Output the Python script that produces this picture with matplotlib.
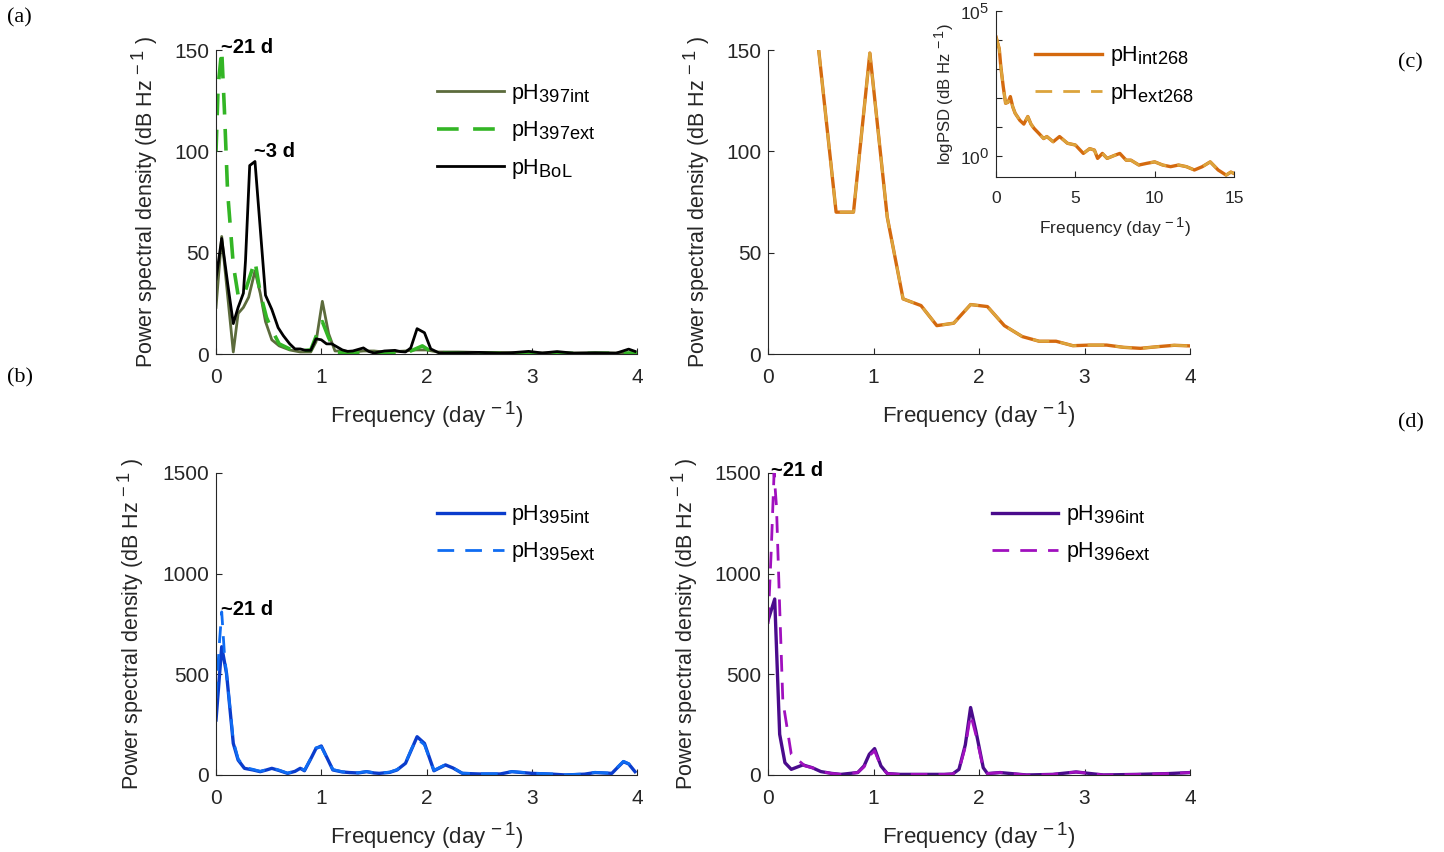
import numpy as np
import matplotlib
matplotlib.use("Agg")
import matplotlib.pyplot as plt
import matplotlib._mathtext as mathtext_impl

plt.rcParams["font.family"] = ["Liberation Sans", "DejaVu Sans"]
plt.rcParams["mathtext.fontset"] = "custom"
plt.rcParams["mathtext.rm"] = "Liberation Sans"
plt.rcParams["mathtext.it"] = "Liberation Sans"
# MATLAB tex subscripts are nearly full size
mathtext_impl.SHRINK_FACTOR = 0.85

# ---- data ----
# (a) pH397 internal / external and BoL
f_397int = [0, 0.054, 0.164, 0.21, 0.26, 0.31, 0.37, 0.42, 0.47, 0.53, 0.6, 0.7, 0.8, 0.9, 0.95,
            1.01, 1.07, 1.13, 1.2, 1.3, 1.4, 1.5, 1.6, 1.7, 1.8, 1.9, 2.0, 2.1, 2.3, 2.5, 2.7,
            2.9, 3.1, 3.3, 3.5, 3.7, 3.9, 4.0]
psd_397int = [23, 58, 1, 20, 23, 28, 41, 30, 16, 7, 4, 2, 1, 1, 6,
              26, 10, 1.5, 1.5, 1, 1.5, 1.5, 1, 1.2, 1.5, 2, 2, 1, 1, 0.8,
              0.8, 0.5, 0.5, 0.5, 0.5, 0.5, 0.5, 0.5]
f_397ext = [0, 0.02, 0.054, 0.08, 0.11, 0.164, 0.21, 0.26, 0.32, 0.37, 0.42, 0.48, 0.53, 0.6,
            0.7, 0.8, 0.9, 0.96, 1.01, 1.07, 1.14, 1.3, 1.5, 1.7, 1.85, 1.96, 2.05, 2.2, 2.5,
            3.0, 3.5, 4.0]
psd_397ext = [100, 132, 150, 120, 80, 44, 29, 28, 38, 46, 30, 18, 12, 5,
              2.5, 1.6, 2, 10, 16, 8, 0.8, 0.5, 0.5, 0.5, 1.5, 4, 1, 0.5, 0.3,
              0.3, 0.3, 0.5]
f_bol = [0, 0.054, 0.11, 0.164, 0.21, 0.26, 0.28, 0.32, 0.37, 0.42, 0.47, 0.53, 0.59, 0.64,
         0.7, 0.75, 0.8, 0.85, 0.9, 0.95, 1.0, 1.05, 1.1, 1.15, 1.2, 1.25, 1.3, 1.4, 1.45,
         1.5, 1.6, 1.7, 1.75, 1.8, 1.85, 1.91, 1.98, 2.04, 2.12, 2.3, 2.5, 2.7, 2.8, 2.97,
         3.1, 3.24, 3.4, 3.6, 3.8, 3.92, 3.98]
psd_bol = [37, 57, 35, 15, 23, 30, 46, 93, 95, 62, 29, 22, 13, 9,
           5, 2.5, 2.5, 1.8, 1.8, 7.5, 7, 5, 5, 3.5, 2, 1.3, 1.5, 3, 1.3,
           0.5, 1.5, 1.8, 1.2, 1, 3, 12.5, 10.5, 2.5, 0.5, 0.6, 0.8, 0.4, 0.6, 1.3,
           0.5, 1.2, 0.4, 0.6, 0.4, 2.4, 1.3]

# (c) pH268 internal / external
f_268 = [0.48, 0.645, 0.81, 0.965, 1.13, 1.28, 1.45, 1.6, 1.76, 1.92, 2.08, 2.24, 2.41,
         2.57, 2.73, 2.89, 3.05, 3.21, 3.37, 3.53, 3.69, 3.85, 4.0]
psd_268int = [150, 70, 70, 148.5, 67.5, 27.2, 23.9, 14, 15.2, 24.4, 23.4, 14, 8.6,
              6.3, 6.3, 4.1, 4.4, 4.4, 3.3, 2.8, 3.6, 4.3, 4]
psd_268ext = [150, 70, 70, 148.5, 67.5, 27.2, 23.9, 14, 15.2, 24.4, 23.4, 14, 8.6,
              6.3, 6.3, 4.1, 4.4, 4.4, 3.3, 2.8, 3.6, 4.3, 4]
# (c) inset, log scale
f_inset = [0, 0.2, 0.3, 0.45, 0.6, 0.75, 0.9, 1.05, 1.2, 1.5, 1.75, 2.0, 2.2, 2.4, 2.7, 3.0,
           3.2, 3.6, 4.0, 4.5, 5.0, 5.5, 5.9, 6.2, 6.4, 6.7, 7.0, 7.5, 7.8, 8.2, 8.5, 9.0,
           9.5, 10.0, 10.5, 11.0, 11.5, 12.0, 12.5, 13.0, 13.5, 14.0, 14.5, 14.8, 15.0]
logpsd_inset = [12600, 5000, 1200, 250, 66, 71, 112, 50, 30, 17, 12.6, 23, 12.6, 8.9, 6, 4,
                4.7, 3.1, 4.7, 2.75, 2.4, 1.23, 1.8, 1.6, 0.83, 1.23, 0.83, 1.07, 1.23, 0.72,
                0.72, 0.49, 0.56, 0.63, 0.49, 0.43, 0.49, 0.43, 0.33, 0.43, 0.63, 0.33, 0.22,
                0.28, 0.25]

# (b) pH395 internal / external
f_395int = [0, 0.054, 0.1, 0.164, 0.21, 0.27, 0.35, 0.42, 0.48, 0.53, 0.6, 0.68, 0.75, 0.8,
            0.84, 0.9, 0.95, 1.0, 1.05, 1.11, 1.2, 1.27, 1.35, 1.43, 1.5, 1.55, 1.65, 1.72,
            1.8, 1.86, 1.91, 1.98, 2.07, 2.18, 2.25, 2.34, 2.5, 2.7, 2.81, 3.0, 3.2, 3.32,
            3.5, 3.6, 3.76, 3.82, 3.87, 3.92, 3.98]
psd_395int = [273, 637, 504, 157, 74, 33, 25, 16.5, 25, 33, 22, 8, 18, 33,
              21, 80, 132, 144, 90, 25, 15, 12, 10, 16.5, 10, 8, 13, 25,
              58, 130, 190, 157, 21, 50, 35, 8, 5, 5, 16.5, 8, 4, 0,
              4, 12, 8, 40, 66, 55, 16.5]
f_395ext = [0, 0.03, 0.054, 0.08, 0.12, 0.164, 0.21, 0.27, 0.35, 0.42, 0.48, 0.53, 0.6, 0.68,
            0.75, 0.8, 0.84, 0.9, 0.95, 1.0, 1.05, 1.11, 1.2, 1.27, 1.35, 1.43, 1.5, 1.55,
            1.65, 1.72, 1.8, 1.86, 1.91, 1.98, 2.07, 2.18, 2.25, 2.34, 2.5, 2.7, 2.81, 3.0,
            3.2, 3.32, 3.5, 3.6, 3.76, 3.82, 3.87, 3.92, 3.98]
psd_395ext = [380, 640, 810, 600, 400, 170, 80, 38, 28, 18, 27, 35, 24, 9,
              20, 35, 23, 82, 135, 140, 88, 27, 16, 13, 11, 17, 11, 9,
              14, 27, 60, 133, 180, 150, 23, 52, 36, 9, 6, 6, 17, 9,
              5, 1, 5, 13, 9, 42, 68, 56, 18]

# (d) pH396 internal / external
f_396int = [0, 0.063, 0.11, 0.16, 0.22, 0.33, 0.42, 0.5, 0.6, 0.69, 0.78, 0.85, 0.91, 0.96,
            1.01, 1.07, 1.13, 1.25, 1.45, 1.6, 1.67, 1.75, 1.81, 1.87, 1.92, 1.97, 2.04,
            2.08, 2.2, 2.45, 2.7, 2.92, 3.18, 3.5, 3.8, 4.0]
psd_396int = [767, 874, 202, 61, 28, 50, 36, 17, 8, 3, 8, 12, 45, 103,
              131, 45, 7, 3, 3, 3, 3, 5, 28, 150, 335, 219, 36,
              7, 12, 0, 3, 15, 0, 3, 7, 12]
f_396ext = [0, 0.03, 0.057, 0.08, 0.11, 0.14, 0.22, 0.35, 0.42, 0.5, 0.6, 0.69, 0.78, 0.85,
            0.91, 0.96, 1.01, 1.07, 1.13, 1.25, 1.45, 1.6, 1.67, 1.75, 1.81, 1.87, 1.92,
            1.97, 2.04, 2.08, 2.2, 2.45, 2.7, 2.92, 3.18, 3.5, 3.8, 4.0]
psd_396ext = [750, 1115, 1500, 1330, 833, 368, 103, 45, 36, 17, 8, 3, 8, 12,
              40, 95, 120, 42, 7, 3, 3, 3, 3, 5, 25, 140, 300, 200,
              33, 7, 12, 0, 3, 15, 0, 3, 7, 12]

AX_COL = "#262626"
LW = 2.0
DASH = (6, 4)


def style(ax, lsize=15):
    for s in ["top", "right"]:
        ax.spines[s].set_visible(False)
    for s in ["left", "bottom"]:
        ax.spines[s].set_color(AX_COL)
        ax.spines[s].set_linewidth(0.8)
    ax.tick_params(direction="in", colors=AX_COL, labelsize=lsize, length=4, width=0.8)
    ax.tick_params(axis="x", pad=10)
    ax.tick_params(axis="y", pad=5)


def main_axes(ax, ymax, yticks):
    style(ax)
    ax.set_xlim(0, 4)
    ax.set_ylim(0, ymax)
    ax.set_xticks([0, 1, 2, 3, 4])
    ax.set_yticks(yticks)
    ax.set_xlabel("Frequency (day$^{\\,-1}$)", fontsize=16, color=AX_COL)
    ax.set_ylabel("Power spectral density (dB Hz$^{\\,-1}$ )", fontsize=15.5, color=AX_COL)


def lbl(s):
    return "pH$_{\\mathregular{" + s + "}}$"


fig = plt.figure(figsize=(14.44, 8.52), dpi=100)
ax_a = fig.add_axes([0.1496, 0.5845, 0.2916, 0.3568])
ax_c = fig.add_axes([0.5319, 0.5845, 0.2922, 0.3568])
ax_b = fig.add_axes([0.1496, 0.0904, 0.2916, 0.3545])
ax_d = fig.add_axes([0.5319, 0.0904, 0.2922, 0.3545])
ax_in = fig.add_axes([0.6898, 0.7923, 0.1648, 0.1948])

leg_kw = dict(frameon=False, fontsize=15.5, handlelength=3.1, handletextpad=0.35,
              labelspacing=0.62, borderpad=0, borderaxespad=0, loc="upper left")

# 1. panel (a)
ax_a.plot(f_397int, psd_397int, color="#5c6b3c", lw=LW, label=lbl("397int"))
ax_a.plot(f_397ext, psd_397ext, color="#33b525", lw=LW + 0.6, dashes=DASH, label=lbl("397ext"))
ax_a.plot(f_bol, psd_bol, color="black", lw=LW, label=lbl("BoL"))
main_axes(ax_a, 150, [0, 50, 100, 150])
ax_a.text(0.05, 151, "~21 d", fontsize=14.5, fontweight="bold", va="center", ha="left")
ax_a.text(0.36, 100, "~3 d", fontsize=14.5, fontweight="bold", va="center", ha="left")
ax_a.legend(bbox_to_anchor=(0.525, 0.895), **leg_kw)

# 2. panel (c) with inset
ax_c.plot(f_268, psd_268int, color="#d4690e", lw=LW + 0.4, label=lbl("int268"))
ax_c.plot(f_268, psd_268ext, color="#dca43c", lw=LW, dashes=DASH, label=lbl("ext268"))
main_axes(ax_c, 150, [0, 50, 100, 150])

ax_in.plot(f_inset, logpsd_inset, color="#d4690e", lw=LW + 0.4, label=lbl("int268"))
ax_in.plot(f_inset, logpsd_inset, color="#dca43c", lw=LW, dashes=DASH, label=lbl("ext268"))
style(ax_in, lsize=12.5)
ax_in.tick_params(axis="x", pad=10)
ax_in.set_yscale("log")
ax_in.set_xlim(0, 15)
ax_in.set_ylim(0.19, 1e5)
ax_in.set_xticks([0, 5, 10, 15])
ax_in.set_yticks([1e0, 1e1, 1e2, 1e3, 1e4, 1e5])
ax_in.set_yticklabels(["$10^0$", "", "", "", "", "$10^5$"])
ax_in.yaxis.set_minor_locator(matplotlib.ticker.NullLocator())
ax_in.set_xlabel("Frequency (day$^{\\,-1}$)", fontsize=12.5, color=AX_COL)
ax_in.set_ylabel("logPSD (dB Hz$^{\\,-1}$)", fontsize=12, color=AX_COL)
ax_in.yaxis.set_label_coords(-0.17, 0.5)
ax_in.xaxis.set_label_coords(0.5, -0.23)
ax_in.legend(bbox_to_anchor=(0.165, 0.8), **leg_kw)

# 3. panel (b)
ax_b.plot(f_395int, psd_395int, color="#0a3ccc", lw=LW + 0.4, label=lbl("395int"))
ax_b.plot(f_395ext, psd_395ext, color="#0f6cf2", lw=LW, dashes=DASH, label=lbl("395ext"))
main_axes(ax_b, 1500, [0, 500, 1000, 1500])
ax_b.text(0.05, 820, "~21 d", fontsize=14.5, fontweight="bold", va="center", ha="left")
ax_b.legend(bbox_to_anchor=(0.525, 0.9), **leg_kw)

# 4. panel (d)
ax_d.plot(f_396int, psd_396int, color="#4a0b8c", lw=LW + 0.4, label=lbl("396int"))
ax_d.plot(f_396ext, psd_396ext, color="#a010be", lw=LW, dashes=DASH, label=lbl("396ext"))
main_axes(ax_d, 1500, [0, 500, 1000, 1500])
ax_d.text(0.03, 1510, "~21 d", fontsize=14.5, fontweight="bold", va="center", ha="left")
ax_d.legend(bbox_to_anchor=(0.53, 0.9), **leg_kw)

for ax, xl in [(ax_a, -0.133), (ax_c, -0.133), (ax_b, -0.166), (ax_d, -0.161)]:
    ax.yaxis.set_label_coords(xl, 0.5)
    ax.xaxis.set_label_coords(0.5, -0.15)

# panel letters
for x, y, s in [(7, 18, "(a)"), (7, 378, "(b)"), (1398, 63, "(c)"), (1398, 423, "(d)")]:
    fig.text(x / 1444, 1 - y / 852, s, fontsize=16, family=["Liberation Serif", "DejaVu Serif"],
             va="center", ha="left")

fig.savefig("out.png", dpi=100)
plt.close("all")
